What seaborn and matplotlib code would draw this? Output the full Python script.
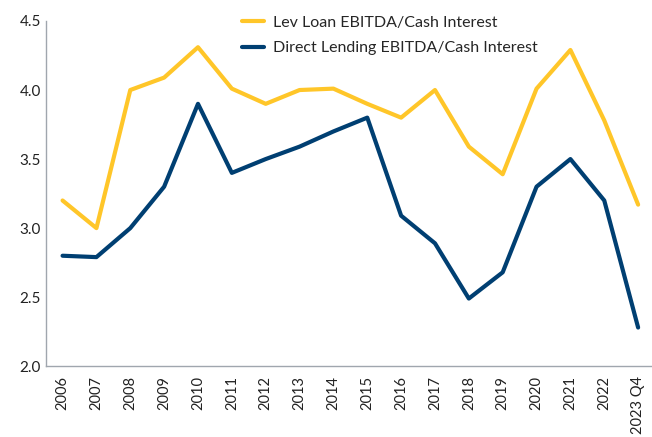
import matplotlib
matplotlib.use("Agg")
import matplotlib.pyplot as plt
import seaborn as sns
import pandas as pd

years = ["2006", "2007", "2008", "2009", "2010", "2011", "2012", "2013", "2014",
         "2015", "2016", "2017", "2018", "2019", "2020", "2021", "2022", "2023 Q4"]
lev_loan = [3.20, 3.00, 4.00, 4.09, 4.31, 4.01, 3.90, 4.00, 4.01,
            3.90, 3.80, 4.00, 3.59, 3.39, 4.01, 4.29, 3.78, 3.17]
direct_lending = [2.80, 2.79, 3.00, 3.30, 3.90, 3.40, 3.50, 3.59, 3.70,
                  3.80, 3.09, 2.89, 2.49, 2.68, 3.30, 3.50, 3.20, 2.28]

df = pd.DataFrame({
    "year": years * 2,
    "value": lev_loan + direct_lending,
    "series": ["Lev Loan EBITDA/Cash Interest"] * len(years)
              + ["Direct Lending EBITDA/Cash Interest"] * len(years),
})

sns.set_style("white")
plt.rcParams["font.family"] = ["Lato", "DejaVu Sans"]

fig, ax = plt.subplots(figsize=(6.52, 4.37), dpi=100)
fig.subplots_adjust(left=0.07, right=1.0, top=0.952, bottom=0.162)

sns.lineplot(data=df, x="year", y="value", hue="series", sort=False,
             palette=["#FFC629", "#003F72"], linewidth=3, ax=ax)

ax.set_ylim(2.0, 4.5)
ax.set_yticks([2.0, 2.5, 3.0, 3.5, 4.0, 4.5])
ax.set_yticklabels(["2.0", "2.5", "3.0", "3.5", "4.0", "4.5"])
ax.set_xlim(-0.5, len(years) - 0.59)
ax.set_xlabel("")
ax.set_ylabel("")
ax.tick_params(axis="both", length=0, labelsize=11, colors="#222222")
ax.tick_params(axis="x", rotation=90, pad=7, labelsize=10.5)
for s in ["top", "right"]:
    ax.spines[s].set_visible(False)
for s in ["left", "bottom"]:
    ax.spines[s].set_color("#A0A6AE")
    ax.spines[s].set_linewidth(1)

ax.legend(loc="upper left", bbox_to_anchor=(0.30, 1.058), frameon=False,
          fontsize=11.5, handlelength=1.4, labelspacing=0.72, handletextpad=0.55)

plt.savefig("out.png", dpi=100)
